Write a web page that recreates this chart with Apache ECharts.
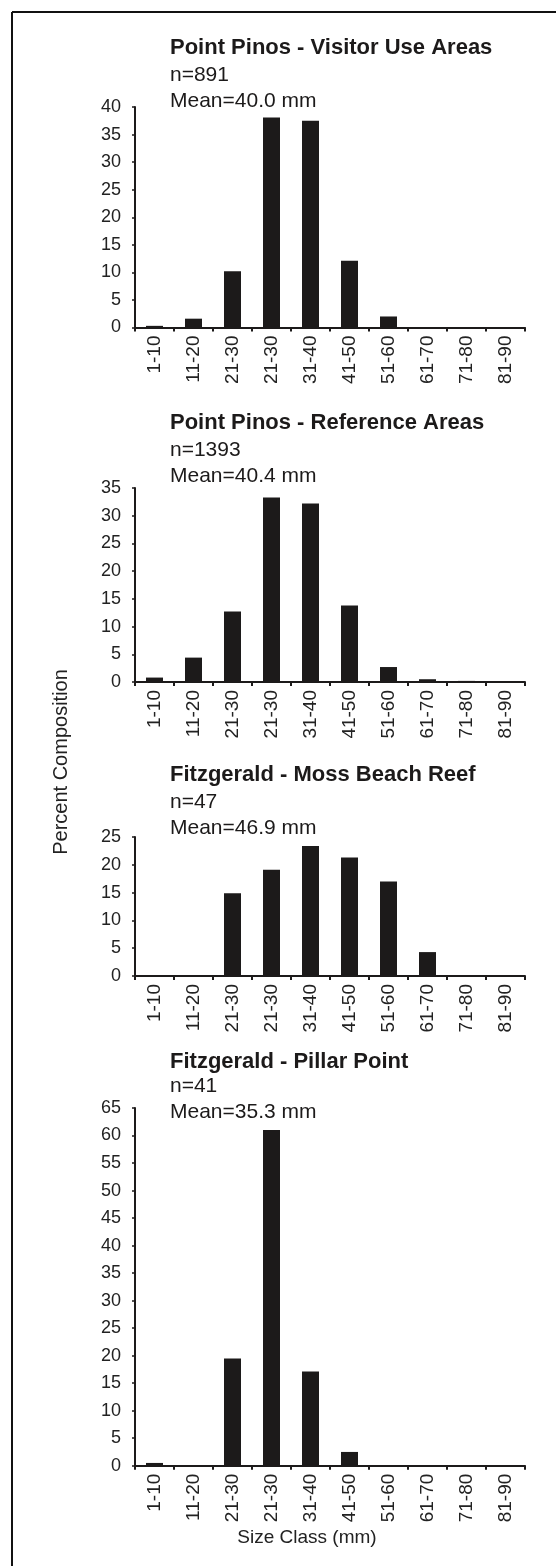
<!DOCTYPE html>
<html>
<head>
<meta charset="utf-8">
<script src="https://cdn.jsdelivr.net/npm/echarts@6/dist/echarts.min.js"></script>
<style>
html,body{margin:0;padding:0;background:#fff;}
#chart{width:556px;height:1566px;}
</style>
</head>
<body>
<div id="chart"></div>
<script>
// ---- data ----
const categories = ['1-10','11-20','21-30','21-30','31-40','41-50','51-60','61-70','71-80','81-90'];
const panelTitles = ['Point Pinos - Visitor Use Areas','Point Pinos - Reference Areas','Fitzgerald - Moss Beach Reef','Fitzgerald - Pillar Point'];
const sampleSizes = ['n=891','n=1393','n=47','n=41'];
const meanLabels = ['Mean=40.0 mm','Mean=40.4 mm','Mean=46.9 mm','Mean=35.3 mm'];
const visitorUse = [0.3, 1.6, 10.2, 38.1, 37.5, 12.1, 2.0, 0, 0, 0];
const referenceAreas = [0.8, 4.4, 12.7, 33.3, 32.2, 13.8, 2.7, 0.5, 0.2, 0];
const mossBeach = [0, 0, 14.9, 19.1, 23.4, 21.3, 17.0, 4.3, 0, 0];
const pillarPoint = [0.5, 0, 19.5, 61.0, 17.1, 2.5, 0, 0, 0, 0];
const yMaxes = [40, 35, 25, 65];
const yStep = 5;
const yAxisName = 'Percent Composition';
const xAxisName = 'Size Class (mm)';

// ---- layout ----
const seriesData = [visitorUse, referenceAreas, mossBeach, pillarPoint];
const gridTops = [107, 488, 837, 1108];
const gridHeights = [220.5, 194, 139, 357.7];
const titleTops = [36, 411, 763, 1050];
const titleGaps = [2, 2, 2, -1];
const FONT = '"Liberation Sans", Arial, sans-serif';
const INK = '#1c1a1a';

const option = {
  backgroundColor: '#fff',
  animation: false,
  title: panelTitles.map((t, i) => ({
    text: t,
    subtext: sampleSizes[i] + '\n' + meanLabels[i],
    left: 170, top: titleTops[i], padding: 0, itemGap: titleGaps[i],
    textStyle: {fontFamily: FONT, fontWeight: 'bold', fontSize: 22, lineHeight: 24, color: INK},
    subtextStyle: {fontFamily: FONT, fontSize: 21, lineHeight: 26, color: INK}
  })),
  grid: gridTops.map((t, i) => ({left: 135, width: 390, top: t, height: gridHeights[i], containLabel: false})),
  xAxis: seriesData.map((d, i) => ({
    type: 'category', gridIndex: i, data: categories,
    axisLine: {show: true, lineStyle: {color: INK, width: 2}},
    axisTick: {show: true, length: 4, lineStyle: {color: INK, width: 2}},
    axisLabel: {rotate: 90, interval: 0, margin: 8, fontFamily: FONT, fontSize: 19, color: '#222'},
    splitLine: {show: false}
  })),
  yAxis: seriesData.map((d, i) => ({
    type: 'value', gridIndex: i, min: 0, max: yMaxes[i], interval: yStep,
    axisLine: {show: true, lineStyle: {color: INK, width: 2}},
    axisTick: {show: true, length: 3, lineStyle: {color: INK, width: 1.5}},
    axisLabel: {margin: 14, fontFamily: FONT, fontSize: 18, color: '#222'},
    splitLine: {show: false}
  })),
  series: seriesData.map((d, i) => ({
    type: 'bar', xAxisIndex: i, yAxisIndex: i, data: d,
    barWidth: 17, itemStyle: {color: INK}
  })),
  graphic: [
    {type: 'line', shape: {x1: 12, y1: 12, x2: 556, y2: 12}, style: {stroke: '#111', lineWidth: 2}},
    {type: 'line', shape: {x1: 12, y1: 12, x2: 12, y2: 1566}, style: {stroke: '#111', lineWidth: 2}},
    {type: 'text', x: 61, y: 762, rotation: Math.PI / 2,
     style: {text: yAxisName, fontFamily: FONT, fontSize: 20, fill: '#222', textAlign: 'center', textVerticalAlign: 'middle'}},
    {type: 'text', x: 307, y: 1538,
     style: {text: xAxisName, fontFamily: FONT, fontSize: 19, fill: '#222', textAlign: 'center', textVerticalAlign: 'middle'}}
  ]
};

const chart = echarts.init(document.getElementById('chart'), null, {renderer: 'canvas'});
chart.setOption(option);
</script>
</body>
</html>
